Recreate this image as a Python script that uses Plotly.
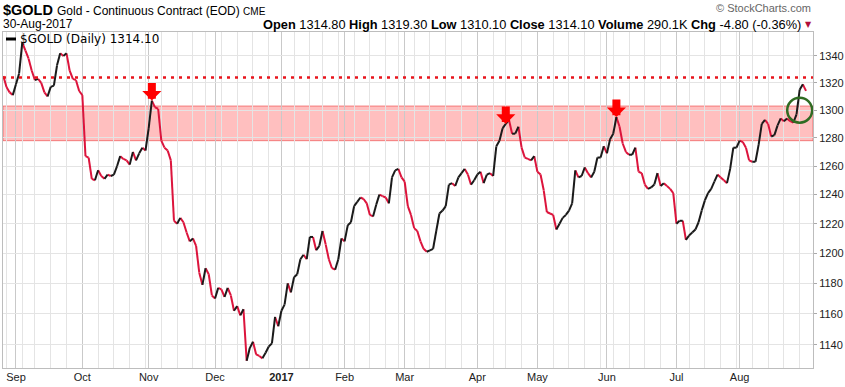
import math
import pandas as pd
import plotly.graph_objects as go

# ---------------- data ----------------
holidays = ["2016-09-05", "2016-11-24", "2016-12-26", "2017-01-02", "2017-01-16",
            "2017-02-20", "2017-04-14", "2017-05-29", "2017-07-04"]
dates = pd.bdate_range("2016-08-26", "2017-08-30", freq="C", holidays=holidays)

close = [
    1325, 1317, 1313, 1311, 1319, 1327, 1350, 1344, 1338, 1329,
    1322, 1323, 1320, 1313, 1310, 1317, 1318, 1333, 1342, 1340,
    1342, 1329, 1323, 1322, 1314, 1311, 1267, 1266, 1251, 1250,
    1257, 1253, 1251, 1254, 1253, 1254, 1260, 1267, 1265, 1264,
    1261, 1270, 1264, 1269, 1273, 1271, 1287, 1307, 1302, 1301,
    1278, 1273, 1271, 1264, 1222, 1220, 1224, 1221, 1214, 1208,
    1210, 1205, 1187, 1179, 1190, 1186, 1172, 1170, 1177, 1176,
    1171, 1177, 1172, 1162, 1165, 1159, 1163, 1130, 1138, 1142,
    1134, 1133, 1131.5, 1135, 1139, 1141, 1158, 1152, 1162, 1166,
    1180, 1174, 1184, 1186, 1196, 1199, 1196, 1211, 1211, 1202,
    1205, 1215, 1206, 1196, 1190, 1189, 1196, 1210, 1208, 1219,
    1221, 1232, 1235, 1238, 1237, 1234, 1226, 1225, 1233, 1240,
    1239, 1238, 1234, 1252, 1257, 1258, 1252, 1249, 1232, 1226,
    1217, 1215, 1208, 1203, 1201, 1202, 1203, 1215, 1227, 1229,
    1232, 1247, 1248, 1246, 1252, 1255, 1258, 1254, 1247, 1250,
    1254, 1256, 1248, 1254, 1255, 1253, 1274, 1278, 1287, 1290,
    1293, 1283, 1283, 1288, 1273, 1266, 1265, 1264, 1267, 1256,
    1254, 1243, 1228, 1227, 1226, 1216, 1220, 1224, 1226, 1229,
    1234, 1257, 1252, 1253, 1259, 1255, 1252, 1256, 1266, 1266,
    1274, 1269, 1279, 1283, 1295, 1288, 1276, 1270, 1268, 1268,
    1273, 1256, 1255, 1247, 1244, 1245, 1247, 1255, 1246, 1248,
    1246, 1244, 1241, 1220, 1222, 1222, 1209, 1212, 1214, 1216,
    1221, 1229, 1236, 1241, 1244, 1249, 1254, 1252, 1250, 1248,
    1258, 1273, 1273, 1278, 1277, 1273, 1264, 1263, 1263, 1275,
    1290, 1293, 1290, 1281, 1282, 1289, 1294, 1292, 1294, 1292,
    1291, 1297, 1315, 1318.9, 1314.1,
]

y_ticks = [1140, 1160, 1180, 1200, 1220, 1240, 1260, 1280, 1300, 1320, 1340]
band_low, band_high = 1278, 1303       # resistance zone
resist_line = 1324                     # dotted red line
arrow_idx = [47, 159, 194]             # red arrows at peaks
circle_idx, circle_level = 252, 1300   # green breakout circle

symbol = "$GOLD"
title_txt = "Gold - Continuous Contract (EOD)"
exchange = "CME"
date_txt = "30-Aug-2017"
info_labels = ["Open", "High", "Low", "Close", "Volume", "Chg"]
info_values = ["1314.80", "1319.30", "1310.10", "1314.10", "290.1K", "-4.80 (-0.36%)"]
legend_txt = "$GOLD (Daily) 1314.10"

# ---------------- build ----------------
n = len(close)

up_x, up_y, dn_x, dn_y = [], [], [], []
for i in range(n - 1):
    if close[i + 1] >= close[i]:
        up_x += [i, i + 1, None]; up_y += [close[i], close[i + 1], None]
    else:
        dn_x += [i, i + 1, None]; dn_y += [close[i], close[i + 1], None]

month_idx, month_txt, week_idx = [], [], []
for i in range(1, n):
    d, p = dates[i], dates[i - 1]
    if d.month != p.month:
        month_idx.append(i)
        month_txt.append("<b>%d</b>" % d.year if d.month == 1 else d.strftime("%b"))
    elif d.weekday() < p.weekday():
        week_idx.append(i)

RED = "#dc143c"
fig = go.Figure()
fig.add_trace(go.Scatter(x=dn_x, y=dn_y, mode="lines", line=dict(color=RED, width=2),
                         hoverinfo="skip", showlegend=False))
fig.add_trace(go.Scatter(x=up_x, y=up_y, mode="lines", line=dict(color="#1a1a1a", width=2),
                         hoverinfo="skip", showlegend=False))
fig.add_trace(go.Scatter(x=[circle_idx], y=[circle_level], mode="markers",
                         marker=dict(symbol="circle-open", size=25,
                                     line=dict(color="#2f6b22", width=2.5), color="#2f6b22"),
                         hoverinfo="skip", showlegend=False))

fig.add_shape(type="rect", xref="paper", yref="y", x0=0, x1=1, y0=band_low, y1=band_high,
              fillcolor="rgba(255,0,0,0.25)", line=dict(color="rgba(235,60,60,0.6)", width=1),
              layer="below")
fig.add_shape(type="line", xref="paper", yref="y", x0=0, x1=1, y0=resist_line, y1=resist_line,
              line=dict(color="#e8141c", width=2.5, dash="3px,5px"))

for i in arrow_idx:
    fig.add_annotation(x=i, y=math.log10(close[i]), xref="x", yref="y", text="",
                       showarrow=True, ax=0, ay=-19, arrowhead=1, arrowsize=0.4,
                       arrowwidth=8, arrowcolor="#ff0000", standoff=0)

W, H = 845, 387
L, R, T, B = 3, 32, 32, 19
pw, ph = W - L - R, H - T - B


def px(xp):
    return (xp - L) / pw


def py(yp):
    return (H - B - yp) / ph


FONT = "Liberation Sans, Arial"
fig.add_annotation(xref="paper", yref="paper", x=px(1), y=py(10), xanchor="left", yanchor="middle",
                   showarrow=False, text="<b>%s</b>" % symbol,
                   font=dict(family=FONT, size=14.5, color="#000"))
fig.add_annotation(xref="paper", yref="paper", x=px(55), y=py(11), xanchor="left", yanchor="middle",
                   showarrow=False,
                   text=title_txt + " <span style='font-size:10px'>%s</span>" % exchange,
                   font=dict(family=FONT, size=12, color="#000"))
fig.add_annotation(xref="paper", yref="paper", x=px(1), y=py(24), xanchor="left", yanchor="middle",
                   showarrow=False, text=date_txt,
                   font=dict(family=FONT, size=12, color="#000"))
info = " ".join("<b>%s</b> %s" % (a, b) for a, b in zip(info_labels, info_values))
fig.add_annotation(xref="paper", yref="paper", x=px(803), y=py(24), xanchor="right", yanchor="middle",
                   showarrow=False, text=info,
                   font=dict(family=FONT, size=12.8, color="#000"))
fig.add_annotation(xref="paper", yref="paper", x=px(808), y=py(24), xanchor="center", yanchor="middle",
                   showarrow=False, text="▼",
                   font=dict(family="DejaVu Sans", size=8, color="#b0103a"))
fig.add_annotation(xref="paper", yref="paper", x=px(813), y=py(8), xanchor="right", yanchor="middle",
                   showarrow=False, text="© StockCharts.com",
                   font=dict(family=FONT, size=11, color="#666"))
fig.add_annotation(xref="paper", yref="paper", x=px(18), y=py(39), xanchor="left", yanchor="middle",
                   showarrow=False, text=legend_txt,
                   font=dict(family="DejaVu Sans", size=12, color="#000"))
fig.add_shape(type="line", xref="paper", yref="paper", x0=px(6), x1=px(16), y0=py(39), y1=py(39),
              line=dict(color="#000", width=3))

fig.update_xaxes(range=[-0.1, (813 - 2.6) / 3.163], tickmode="array", tickvals=month_idx,
                 ticktext=month_txt, showgrid=True, gridcolor="#c9c9c9", gridwidth=1,
                 minor=dict(tickmode="array", tickvals=week_idx, showgrid=True,
                            gridcolor="#e4e4e4", gridwidth=1),
                 ticks="", ticklabelstandoff=-1, automargin=False,
                 tickfont=dict(family=FONT, size=11, color="#222"),
                 showline=True, mirror=True, linecolor="#bdbdbd", linewidth=1, zeroline=False)
fig.update_yaxes(type="log", range=[math.log10(1125.4), math.log10(1358.1)], side="right",
                 tickmode="array", tickvals=y_ticks, ticktext=[str(v) for v in y_ticks],
                 showgrid=True, gridcolor="#e4e4e4", gridwidth=1,
                 ticks="outside", ticklen=3, tickcolor="#aaa", automargin=False,
                 tickfont=dict(family=FONT, size=11, color="#222"),
                 showline=True, mirror=True, linecolor="#bdbdbd", linewidth=1, zeroline=False)
fig.update_layout(width=W, height=H, margin=dict(l=L, r=R, t=T, b=B, autoexpand=False),
                  paper_bgcolor="white", plot_bgcolor="white", showlegend=False)
fig.write_html("out.html", config={"displayModeBar": False},
               post_script="document.body.style.margin='0px';")
